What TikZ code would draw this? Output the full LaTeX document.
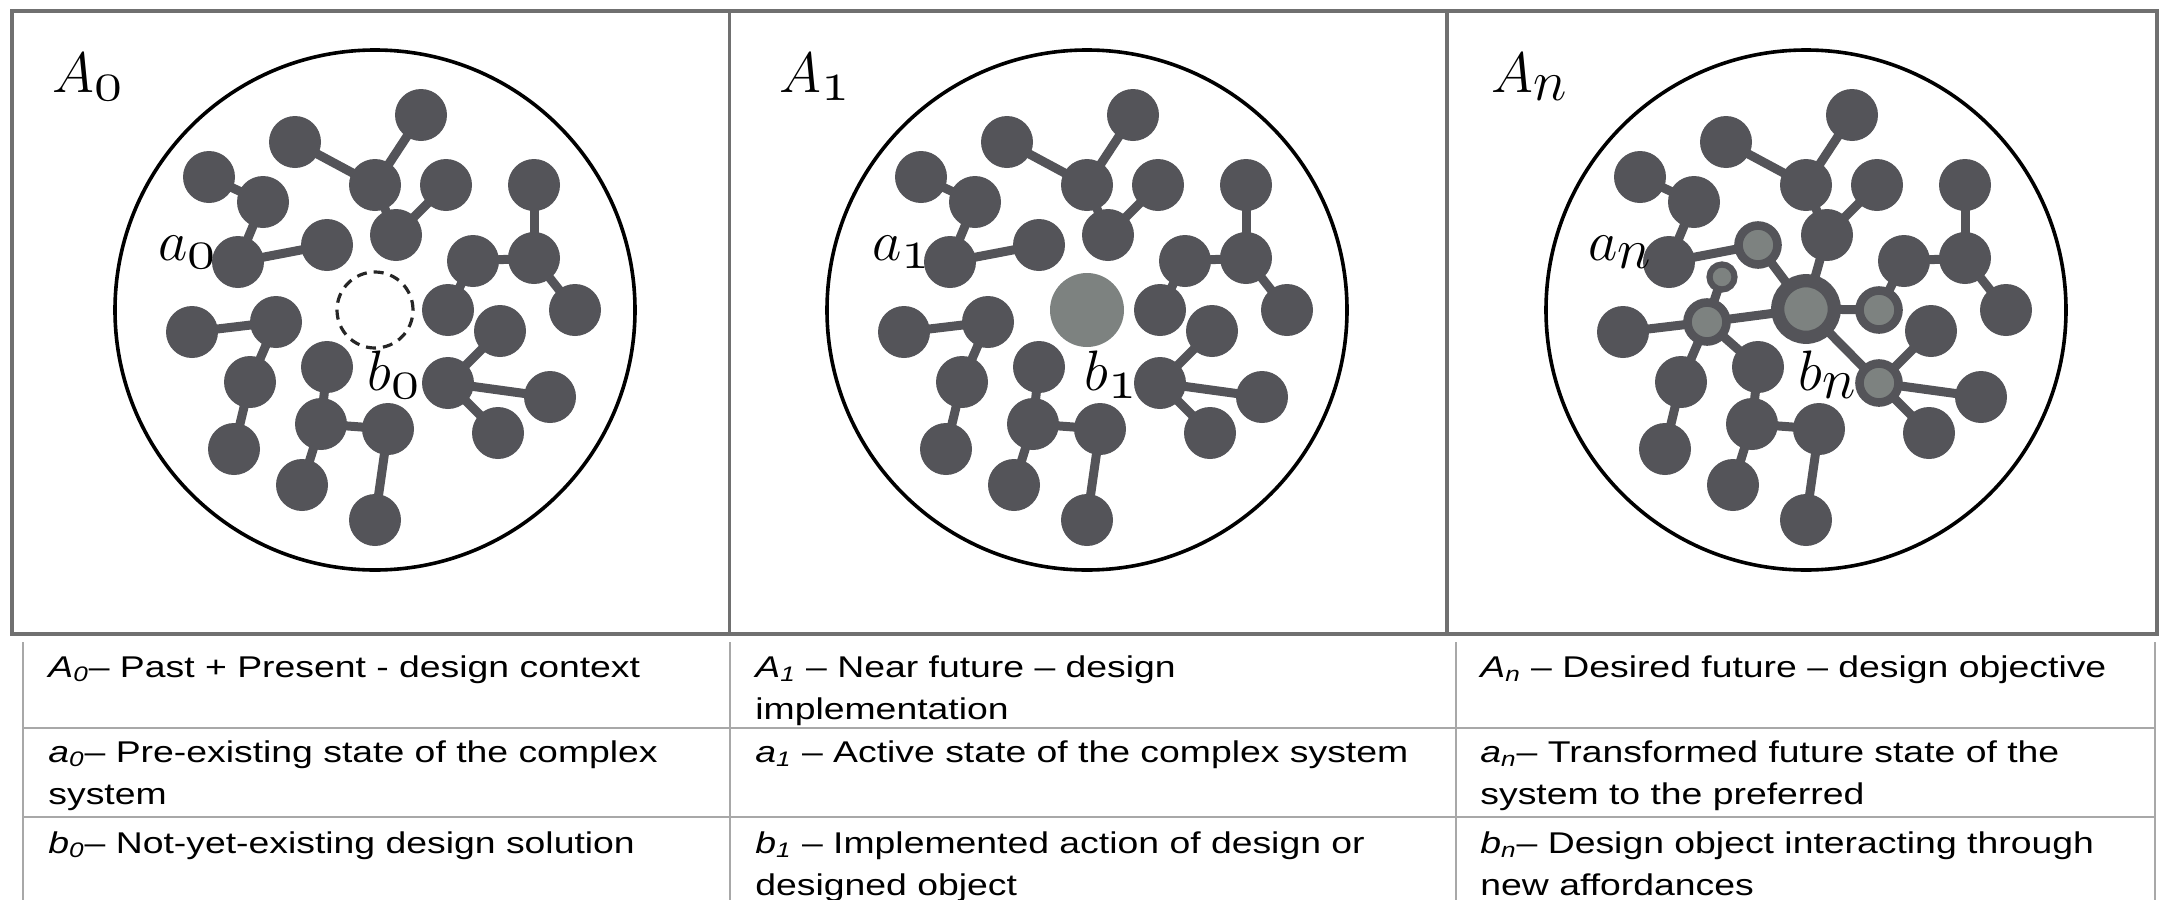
\RequirePackage{fix-cm}
\documentclass[tikz,border=0pt]{standalone}
\usepackage{fontspec}
\newfontfamily\tabfont[FakeStretch=1.245]{Liberation Sans}
\usetikzlibrary{backgrounds}
\definecolor{atomgray}{RGB}{84,84,89}
\definecolor{coregray}{RGB}{125,130,128}
\definecolor{boxgray}{RGB}{112,112,112}
\definecolor{linegray}{RGB}{168,168,168}
\newcommand{\osf}[1]{\hbox{\usefont{OML}{cmm}{m}{it}#1}}
\tikzset{atom/.style={circle, fill=atomgray, minimum size=26pt, inner sep=0pt}, ringatom/.style={circle, draw=atomgray, fill=coregray, line width=4.3pt, minimum size=19.5pt, inner sep=0pt}, smallring/.style={circle, draw=atomgray, fill=coregray, line width=3.1pt, minimum size=12.5pt, inner sep=0pt}, hubring/.style={circle, draw=atomgray, fill=coregray, line width=6.6pt, minimum size=28.3pt, inner sep=0pt}, bond/.style={draw=atomgray, line width=4.5pt}, system/.style={circle, draw=black, line width=1.8pt, minimum size=260pt, inner sep=0pt}, absent/.style={circle, draw=black!85, line width=1.6pt, dash pattern=on 5pt off 3.5pt, minimum size=38pt, inner sep=0pt}, placed/.style={circle, fill=coregray, minimum size=37pt, inner sep=0pt}, boxline/.style={draw=boxgray, line width=1.6pt}, tableline/.style={draw=linegray, line width=1pt}, lab/.style={anchor=base west, inner sep=0pt, font=\fontsize{28.5}{30}\selectfont}, cell/.style={anchor=base west, inner sep=0pt, font=\tabfont\fontsize{15}{18}\selectfont}}
\newcommand{\drawatoms}[3]{%
  \begin{scope}[shift={(#2,0)}]
    \foreach \m/\px/\py in {1/295/142, 2/421/115, 3/375/185, 4/446/185, 5/396/235, 6/209/177, 7/263/202, 8/238/262, 10/534/185, 11/534/258, 12/473/261, 14/575/310, 15/500/331, 17/550/397, 18/498/433, 19/192/332, 21/250/382, 22/234/449, 23/327/367, 24/321/424, 25/388/429, 26/302/485, 27/375/520}
      \node[atom] (#1\m) at (\px,\py) {};
    \foreach \m/\px/\py in {9/327/245, 13/448/310, 16/448/383, 20/276/322}
      \node[#3] (#1\m) at (\px,\py) {};
    \begin{scope}[on background layer]
      \foreach \a/\b in {1/3, 2/3, 3/5, 4/5, 6/7, 7/8, 8/9, 10/11, 11/12, 11/14, 12/13, 15/16, 16/17, 16/18, 19/20, 20/21, 21/22, 23/24, 24/25, 24/26, 25/27}
        \draw[bond] (#1\a.center) -- (#1\b.center);
    \end{scope}
  \end{scope}}
\begin{document}
\begin{tikzpicture}[x=0.5pt, y=-0.5pt]
  \useasboundingbox (0,0) rectangle (2165,900);
  \draw[boxline] (12,11) rectangle (2157,634);
  \draw[boxline] (729.5,11) -- (729.5,634);
  \draw[boxline] (1447,11) -- (1447,634);

  \node[system] (S0) at (375,310) {};
  \node[system] (S1) at (1087,310) {};
  \node[system] (Sn) at (1806,310) {};

  \drawatoms{P}{0}{atom}
  \drawatoms{Q}{712}{atom}
  \drawatoms{R}{1431}{ringatom}

  \node[absent] (b0) at (375,310) {};
  \node[placed] (b1) at (1087,310) {};
  \node[hubring] (bn) at (1806,309) {};
  \node[smallring] (sn) at (1722,277) {};
  \begin{scope}[on background layer]
    \foreach \t in {5,9,13,16,20}
      \draw[bond] (bn.center) -- (R\t.center);
    \draw[bond] (sn.center) -- (R20.center);
    \draw[bond] (R20.center) -- (R23.center);
  \end{scope}

  \node[lab] (LA0) at (52,92) {$A_{\osf0}$};
  \node[lab] (La0) at (158,260) {$a_{\osf0}$};
  \node[lab] (Lb0) at (367,390) {$b_{\osf0}$};
  \node[lab] (LA1) at (779,92) {$A_{\osf1}$};
  \node[lab] (La1) at (872,260) {$a_{\osf1}$};
  \node[lab] (Lb1) at (1084,390) {$b_{\osf1}$};
  \node[lab] (LAn) at (1491,92) {$A_{\textstyle n}$};
  \node[lab] (Lan) at (1588,260) {$a_{\textstyle n}$};
  \node[lab] (Lbn) at (1798,390) {$b_{\textstyle n}$};

  \draw[tableline] (23,642) -- (23,900);
  \draw[tableline] (730,642) -- (730,900);
  \draw[tableline] (1456,642) -- (1456,900);
  \draw[tableline] (2155,642) -- (2155,900);
  \draw[tableline] (23,727.5) -- (2155,727.5);
  \draw[tableline] (23,816.5) -- (2155,816.5);

  \node[cell] (T11) at (48,677) {\textit{A}\textsubscript{\textit{0}}\textendash{} Past + Present - design context};
  \node[cell] (T12) at (755,677) {\textit{A}\textsubscript{\textit{1}} \textendash{} Near future \textendash{} design};
  \node[cell] (T12b) at (755,719) {implementation};
  \node[cell] (T13) at (1480,677) {\textit{A}\textsubscript{\textit{n}} \textendash{} Desired future \textendash{} design objective};
  \node[cell] (T21) at (48,762) {\textit{a}\textsubscript{\textit{0}}\textendash{} Pre-existing state of the complex};
  \node[cell] (T21b) at (48,804) {system};
  \node[cell] (T22) at (755,762) {\textit{a}\textsubscript{\textit{1}} \textendash{} Active state of the complex system};
  \node[cell] (T23) at (1480,762) {\textit{a}\textsubscript{\textit{n}}\textendash{} Transformed future state of the};
  \node[cell] (T23b) at (1480,804) {system to the preferred};
  \node[cell] (T31) at (48,853) {\textit{b}\textsubscript{\textit{0}}\textendash{} Not-yet-existing design solution};
  \node[cell] (T32) at (755,853) {\textit{b}\textsubscript{\textit{1}} \textendash{} Implemented action of design or};
  \node[cell] (T32b) at (755,895) {designed object};
  \node[cell] (T33) at (1480,853) {\textit{b}\textsubscript{\textit{n}}\textendash{} Design object interacting through};
  \node[cell] (T33b) at (1480,895) {new affordances};
\end{tikzpicture}
\end{document}
